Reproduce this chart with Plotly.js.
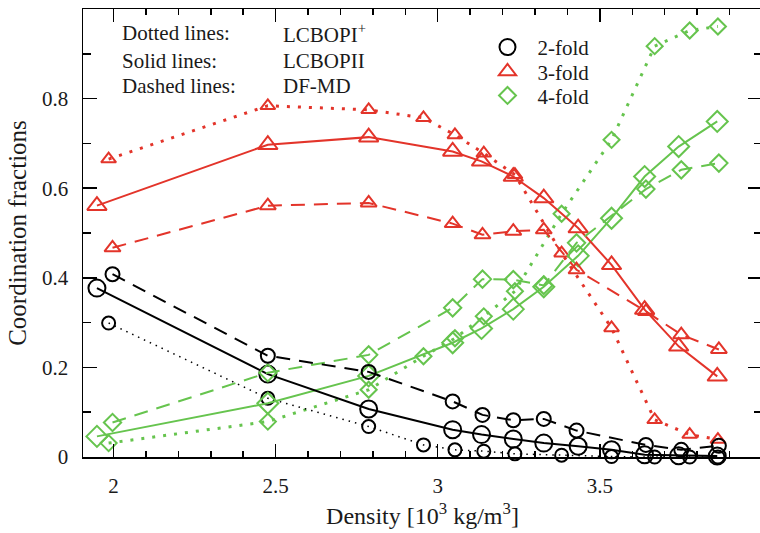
<!DOCTYPE html>
<html>
<head>
<meta charset="utf-8">
<script src="https://cdn.plot.ly/plotly-3.0.1.min.js"></script>
<style>
html,body{margin:0;padding:0;overflow:hidden;background:#fff;}
#chart{width:765px;height:533px;}
</style>
</head>
<body>
<div id="chart"></div>
<script>
// Density values (10^3 kg/m^3) for each model
const xDotted = [1.985, 2.476, 2.787, 2.956, 3.053, 3.142, 3.238, 3.382, 3.536, 3.669, 3.777, 3.864];
const xSolid  = [1.949, 2.476, 2.787, 3.046, 3.135, 3.233, 3.327, 3.433, 3.536, 3.638, 3.743, 3.862];
const xDashed = [1.997, 2.476, 2.787, 3.046, 3.138, 3.233, 3.327, 3.428, 3.642, 3.751, 3.867];

// LCBOPI+ (dotted)
const twoDotted   = [0.299, 0.131, 0.068, 0.027, 0.016, 0.013, 0.007, 0.004, 0.001, 0.000, 0.000, 0.000];
const threeDotted = [0.665, 0.784, 0.775, 0.757, 0.719, 0.678, 0.630, 0.455, 0.288, 0.083, 0.050, 0.039];
const fourDotted  = [0.031, 0.079, 0.150, 0.225, 0.265, 0.314, 0.370, 0.543, 0.708, 0.917, 0.952, 0.961];

// LCBOPII (solid)
const twoSolid   = [0.377, 0.185, 0.107, 0.061, 0.050, 0.040, 0.031, 0.024, 0.016, 0.005, 0.003, 0.002];
const threeSolid = [0.561, 0.697, 0.714, 0.682, 0.660, 0.626, 0.578, 0.511, 0.429, 0.329, 0.247, 0.180];
const fourSolid  = [0.046, 0.120, 0.181, 0.255, 0.287, 0.330, 0.380, 0.449, 0.533, 0.626, 0.693, 0.749];

// DF-MD (dashed)
const twoDashed   = [0.408, 0.226, 0.190, 0.124, 0.094, 0.082, 0.085, 0.059, 0.027, 0.016, 0.025];
const threeDashed = [0.467, 0.561, 0.567, 0.521, 0.496, 0.504, 0.507, 0.418, 0.325, 0.273, 0.240];
const fourDashed  = [0.077, 0.188, 0.228, 0.333, 0.397, 0.396, 0.383, 0.478, 0.598, 0.641, 0.656];

const legendNames = ['2-fold', '3-fold', '4-fold'];
const annoLeft  = ['Dotted lines:', 'Solid lines:', 'Dashed lines:'];
const annoRight = ['LCBOPI<sup>+</sup>', 'LCBOPII', 'DF-MD'];

const BLACK = '#000000', RED = '#e3342a', GREEN = '#66c44e';
const FONT = '"Liberation Serif", "Times New Roman", Times, serif';
const TXT = '#1a1a1a';

const styles = {
  dotted: {size: 13, dashBlack: '1.5px,5px', dashCol: '3px,8px', lwBlack: 1.5, lwCol: 3},
  solid:  {size: 17, dashBlack: 'solid', dashCol: 'solid', lwBlack: 2, lwCol: 2},
  dashed: {size: 14, dashBlack: '14px,9px', dashCol: '14px,9px', lwBlack: 2, lwCol: 2}
};

function tr(x, y, color, symbol, st, isBlack, sizeScale) {
  return {
    x: x, y: y, type: 'scatter', mode: 'lines+markers', showlegend: false,
    cliponaxis: false,
    line: {color: color, width: isBlack ? st.lwBlack : st.lwCol, dash: isBlack ? st.dashBlack : st.dashCol},
    marker: {symbol: symbol, size: st.size * sizeScale, color: color, line: {color: color, width: 2}}
  };
}

const traces = [];
const groups = [
  ['dotted', xDotted, twoDotted, threeDotted, fourDotted],
  ['solid', xSolid, twoSolid, threeSolid, fourSolid],
  ['dashed', xDashed, twoDashed, threeDashed, fourDashed]
];
groups.forEach(g => {
  const st = styles[g[0]];
  traces.push(tr(g[1], g[4], GREEN, 'diamond-open', st, false, 0.95));
  traces.push(tr(g[1], g[3], RED, 'triangle-up-open', st, false, 1.0));
  traces.push(tr(g[1], g[2], BLACK, 'circle-open', st, true, 1.0));
});

// legend entries, one legend box each so the spacing can match
const legendIds = ['legend', 'legend2', 'legend3'];
[[BLACK, 'circle-open', 16], [RED, 'triangle-up-open', 15], [GREEN, 'diamond-open', 13]].forEach((m, i) => {
  traces.push({x: [null], y: [null], type: 'scatter', mode: 'markers', name: legendNames[i], showlegend: true,
    legend: legendIds[i],
    marker: {symbol: m[1], size: m[2], color: m[0], line: {color: m[0], width: 2}}});
});

const annotations = [];
const annoY = [0.946, 0.883, 0.829];
for (let i = 0; i < 3; i++) {
  annotations.push({xref: 'paper', yref: 'paper', x: 0.0545, y: annoY[i], xanchor: 'left', yanchor: 'middle',
    text: annoLeft[i], showarrow: false, font: {family: FONT, size: 21, color: TXT}});
  annotations.push({xref: 'paper', yref: 'paper', x: 0.2916, y: annoY[i], xanchor: 'left', yanchor: 'middle',
    text: annoRight[i], showarrow: false, font: {family: FONT, size: 21, color: TXT}});
}

function legendBox(y) {
  return {x: 0.581, y: y, xanchor: 'left', yanchor: 'top', bgcolor: 'rgba(0,0,0,0)',
    font: {family: FONT, size: 21, color: TXT}, itemwidth: 50};
}

const layout = {
  width: 765, height: 533,
  margin: {l: 83, r: 3, t: 9, b: 76},
  paper_bgcolor: '#fff', plot_bgcolor: '#fff',
  font: {family: FONT, size: 21, color: TXT},
  showlegend: true,
  legend: legendBox(0.960),
  legend2: legendBox(0.9055),
  legend3: legendBox(0.852),
  xaxis: {
    range: [1.906, 4.0], showgrid: false, zeroline: false,
    showline: true, linecolor: '#000', linewidth: 1.5, mirror: 'ticks',
    ticks: 'inside', ticklen: 13, tickwidth: 1.5, tickcolor: '#000',
    dtick: 0.5, tick0: 0,
    minor: {dtick: 0.1, ticks: 'inside', ticklen: 6, tickwidth: 1.5, tickcolor: '#000', showgrid: false},
    tickfont: {family: FONT, size: 21, color: TXT}, ticklabelstandoff: 9,
    title: {text: 'Density [10<sup>3</sup> kg/m<sup>3</sup>]', font: {family: FONT, size: 24, color: TXT}, standoff: 10}
  },
  yaxis: {
    range: [0, 1], showgrid: false, zeroline: false,
    showline: true, linecolor: '#000', linewidth: 1.5, mirror: 'ticks',
    ticks: 'inside', ticklen: 14, tickwidth: 1.5, tickcolor: '#000',
    dtick: 0.2, tick0: 0,
    minor: {dtick: 0.1, ticks: 'inside', ticklen: 8, tickwidth: 1.5, tickcolor: '#000', showgrid: false},
    tickfont: {family: FONT, size: 21, color: TXT}, ticklabelstandoff: 9,
    title: {text: 'Coordination fractions', font: {family: FONT, size: 25, color: TXT}, standoff: 8}
  },
  annotations: annotations
};

Plotly.newPlot('chart', traces, layout, {displayModeBar: false, staticPlot: true});
</script>
</body>
</html>
